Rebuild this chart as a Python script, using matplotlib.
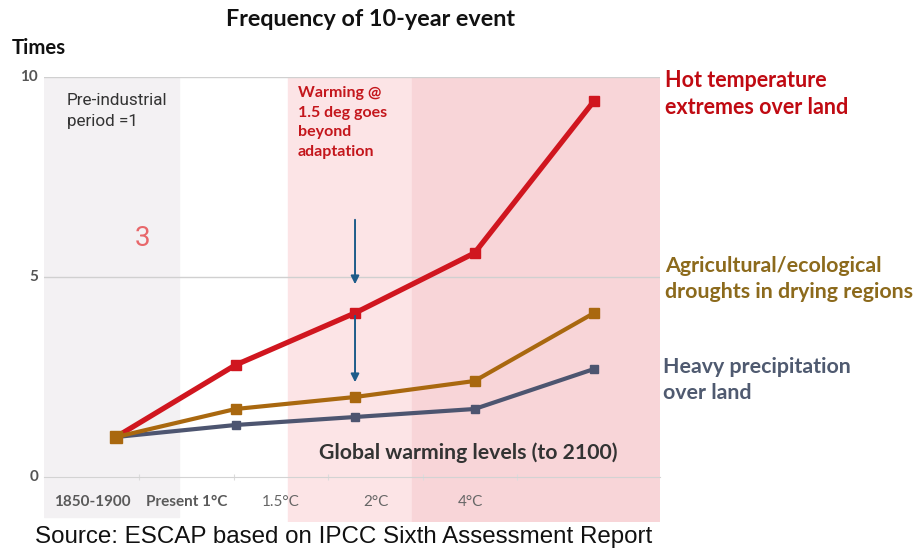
import matplotlib
matplotlib.use("Agg")
import matplotlib.pyplot as plt

# Categories and series values
categories = ["1850-1900", "Present 1°C", "1.5°C", "2°C", "4°C"]
hot_extremes = [1.0, 2.8, 4.1, 5.6, 9.4]
droughts = [1.0, 1.7, 2.0, 2.4, 4.1]
heavy_precip = [1.0, 1.3, 1.5, 1.7, 2.7]
y_ticks = [0, 5, 10]

RED = "#d0161f"
GOLD = "#a9680f"
SLATE = "#4d5570"
LABEL_FONT = ["Lato", "DejaVu Sans"]

W, H = 916, 549
fig = plt.figure(figsize=(W / 100, H / 100), dpi=100)

# axes frame placed in pixel terms
px_left, px_right, px_top, px_bottom = 44, 660, 77, 522
rect = [px_left / W, 1 - px_bottom / H,
        (px_right - px_left) / W, (px_bottom - px_top) / H]
ax = fig.add_axes(rect)
x = list(range(len(categories)))
ax.set_xlim(-0.6025, 4.552)
ax.set_ylim(-1.125, 10)
for s in ax.spines.values():
    s.set_visible(False)
ax.set_xticks([])
ax.set_yticks([])

# background bands
ax.axvspan(-0.6025, 0.53, ymin=5 / 445, color="#f3f1f3", zorder=0)
ax.axvspan(1.44, 2.48, color="#fce4e6", zorder=0)
ax.axvspan(2.48, 4.552, color="#f8d5d8", zorder=0)

# horizontal reference lines
for yv in y_ticks[1:]:
    ax.axhline(yv, color="#d0d0d0", lw=1.0, zorder=1)

# series
ax.plot(x, hot_extremes, color=RED, lw=3.8, marker="s", ms=7.5,
        solid_joinstyle="round", zorder=4)
ax.plot(x, heavy_precip, color=SLATE, lw=3.0, marker="s", ms=5.5, zorder=3)
ax.plot(x, droughts, color=GOLD, lw=3.0, marker="s", ms=6.5, zorder=5)
ax.plot([x[0]], [droughts[0]], color=GOLD, marker="s", ms=9, ls="none", zorder=6)

# arrows at 1.5°C
arrow_kw = dict(arrowstyle="-|>", color="#1e5c8a", lw=1.4, mutation_scale=12)
ax.annotate("", xy=(x[2], 4.75), xytext=(x[2], 6.5), arrowprops=arrow_kw, zorder=7)
ax.annotate("", xy=(x[2], 2.3), xytext=(x[2], hot_extremes[2]), arrowprops=arrow_kw, zorder=7)

# category axis along the baseline, with its own spacing
cax = fig.add_axes(rect, sharey=ax)
cax.patch.set_visible(False)
cax.set_xlim(-0.508, 6.01)
for side in ("top", "left", "right"):
    cax.spines[side].set_visible(False)
cax.spines["bottom"].set_position(("data", 0))
cax.spines["bottom"].set_color("#d3d3d3")
cax.set_xticks([i + 0.5 for i in x])
cax.tick_params(axis="x", direction="inout", length=4, width=0.8, color="#dcdcdc",
                labelbottom=False)
cax.tick_params(axis="y", left=False, labelleft=False)
for i, lab in enumerate(categories):
    bold = i < 2
    cax.text(i, -0.63, lab, ha="center", va="center", fontsize=11,
             family=LABEL_FONT, fontweight="bold" if bold else "normal",
             color="#5a5a5a" if bold else "#666666", zorder=8)

ax.text(2.95, 0.6, "Global warming levels (to 2100)", ha="center", va="center",
        fontsize=15.3, family=LABEL_FONT, fontweight="bold", color="#333333", zorder=8)

ax.text(-0.41, 9.6, "Pre-industrial\nperiod =1", ha="left", va="top",
        fontsize=12.3, family=["Roboto", "DejaVu Sans"], color="#333333",
        linespacing=1.5, zorder=8)
ax.text(0.22, 5.95, "3", ha="center", va="center", fontsize=20,
        family=["Roboto", "DejaVu Sans"], color="#e8676a", zorder=8)
ax.text(1.52, 9.78, "Warming @\n1.5 deg goes\nbeyond\nadaptation", ha="left", va="top",
        fontsize=11.5, family=LABEL_FONT, fontweight="bold", color="#c4161c",
        linespacing=1.52, zorder=8)

# y tick labels
for yv in y_ticks:
    fig.text(38 / W, 1 - (477 - yv * 40) / H, str(yv),
             ha="right", va="center", fontsize=11, family=LABEL_FONT,
             fontweight="bold", color="#555555")
fig.text(12 / W, 1 - 48 / H, "Times", ha="left", va="center", fontsize=14.7,
         family=LABEL_FONT, fontweight="bold", color="#111111")

fig.text(370 / W, 1 - 20 / H, "Frequency of 10-year event", ha="center", va="center",
         fontsize=16.8, family=LABEL_FONT, fontweight="bold", color="#111111")

# series names on the right
fig.text(665 / W, 1 - 94 / H, "Hot temperature\nextremes over land", ha="left",
         va="center", fontsize=15.5, family=LABEL_FONT, fontweight="bold",
         color="#c00a12", linespacing=1.3)
fig.text(665 / W, 1 - 279 / H, "Agricultural/ecological\ndroughts in drying regions",
         ha="left", va="center", fontsize=15.4, family=LABEL_FONT, fontweight="bold",
         color="#8c6a1c", linespacing=1.35)
fig.text(663 / W, 1 - 380 / H, "Heavy precipitation\nover land", ha="left",
         va="center", fontsize=15.4, family=LABEL_FONT, fontweight="bold",
         color="#4f5a70", linespacing=1.38)

fig.text(35 / W, 1 - 537 / H, "Source: ESCAP based on IPCC Sixth Assessment Report",
         ha="left", va="center", fontsize=17.4, family=["Liberation Sans", "DejaVu Sans"],
         color="#111111")

fig.savefig("out.png", dpi=100)
